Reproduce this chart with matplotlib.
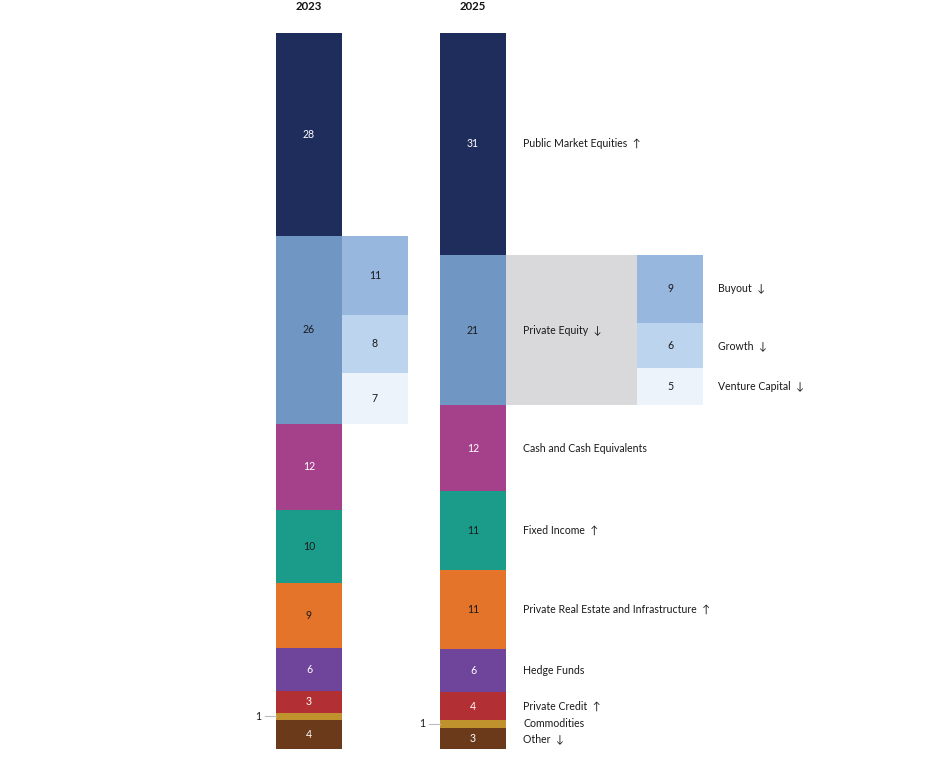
import matplotlib
matplotlib.use("Agg")
import matplotlib.pyplot as plt
from matplotlib.patches import Rectangle

plt.rcParams['font.family'] = ['Lato', 'DejaVu Sans']

# === DATA ===
years = ['2023', '2025']
categories = ['Public Market Equities', 'Private Equity', 'Cash and Cash Equivalents',
              'Fixed Income', 'Private Real Estate and Infrastructure', 'Hedge Funds',
              'Private Credit', 'Commodities', 'Other']
trend = ['↑', '↓', '', '↑', '↑', '', '↑', '', '↓']
values_2023 = [28, 26, 12, 10, 9, 6, 3, 1, 4]
values_2025 = [31, 21, 12, 11, 11, 6, 4, 1, 3]
pe_sub = ['Buyout', 'Growth', 'Venture Capital']
pe_trend = ['↓', '↓', '↓']
pe_2023 = [11, 8, 7]
pe_2025 = [9, 6, 5]

colors = ['#1f2d5c', '#7096c4', '#a4418a', '#1b9b8a', '#e4742a',
          '#6f449b', '#b22f34', '#c0922e', '#6a3a1a']
text_colors = ['white', '#1a1a1a', 'white', '#1a1a1a', '#1a1a1a',
               'white', 'white', 'white', 'white']
sub_colors = ['#97b7df', '#bdd4ee', '#edf3fa']

# === LAYOUT (pixels) ===
W, H = 926, 766
TOP, BOTTOM = 33, 749
BAR_W = 66
bar_x = [276, 440]
PE_IDX = 1
FS = 7.6

fig = plt.figure(figsize=(W / 100, H / 100), dpi=100)
ax = fig.add_axes([0, 0, 1, 1])
ax.set_xlim(0, W)
ax.set_ylim(H, 0)
ax.axis('off')


def draw_bar(x0, values, year):
    scale = (BOTTOM - TOP) / sum(values)
    y = TOP
    spans = []
    for i, v in enumerate(values):
        h = v * scale
        ax.add_patch(Rectangle((x0, y), BAR_W, h, facecolor=colors[i],
                               edgecolor='none'))
        if v > 1:
            ax.text(x0 + BAR_W / 2, y + h / 2, str(v), ha='center', va='center',
                    fontsize=FS, color=text_colors[i])
        else:
            ax.plot([x0 - 11, x0], [y + h / 2, y + h / 2], color='#bbbbbb', lw=0.8)
            ax.text(x0 - 15, y + h / 2, str(v), ha='right', va='center',
                    fontsize=FS, color='#1a1a1a')
        spans.append((y, h))
        y += h
    ax.text(x0 + BAR_W / 2, 7, year, ha='center', va='center', fontsize=8.2,
            fontweight='bold', color='#111111')
    return spans


def draw_sub(x0, y0, h0, subs, labels=None):
    scale = h0 / sum(subs)
    y = y0
    for j, v in enumerate(subs):
        h = v * scale
        ax.add_patch(Rectangle((x0, y), BAR_W, h, facecolor=sub_colors[j],
                               edgecolor='none'))
        ax.text(x0 + BAR_W / 2, y + h / 2, str(v), ha='center', va='center',
                fontsize=FS, color='#1a1a1a')
        if labels:
            ax.text(x0 + BAR_W + 15, y + h / 2, labels[j], ha='left',
                    va='center', fontsize=FS, color='#1a1a1a')
        y += h


# 2023
spans23 = draw_bar(bar_x[0], values_2023, years[0])
y_pe, h_pe = spans23[PE_IDX]
draw_sub(bar_x[0] + BAR_W, y_pe, h_pe, pe_2023)

# 2025
spans25 = draw_bar(bar_x[1], values_2025, years[1])
y_pe, h_pe = spans25[PE_IDX]
gray_x = bar_x[1] + BAR_W
gray_w = 131
ax.add_patch(Rectangle((gray_x, y_pe), gray_w, h_pe, facecolor='#d9d9db',
                       edgecolor='none'))
sub_labels = [f'{n}  {t}' for n, t in zip(pe_sub, pe_trend)]
draw_sub(gray_x + gray_w, y_pe, h_pe, pe_2025, sub_labels)

label_x = bar_x[1] + BAR_W + 17
for i, (y, h) in enumerate(spans25):
    lab = categories[i] + (f'  {trend[i]}' if trend[i] else '')
    ax.text(label_x, y + h / 2, lab, ha='left', va='center', fontsize=FS,
            color='#1a1a1a')

fig.savefig('out.png', dpi=100)
